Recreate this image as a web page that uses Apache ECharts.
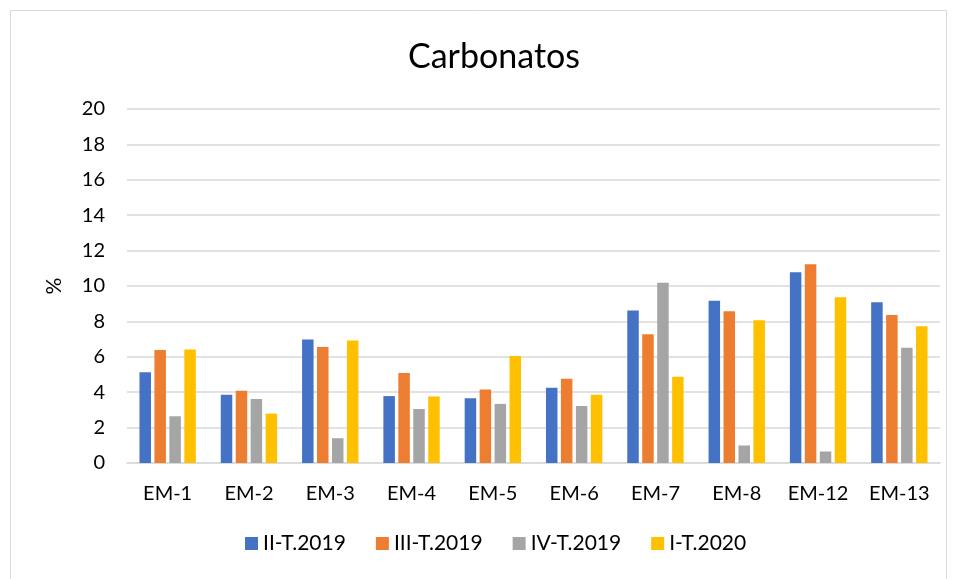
<!DOCTYPE html>
<html>
<head>
<meta charset="utf-8">
<script src="https://cdn.jsdelivr.net/npm/echarts@6/dist/echarts.min.js"></script>
<style>
  html, body { margin: 0; padding: 0; background: #fff; }
  #chart { width: 957px; height: 579px; }
</style>
</head>
<body>
<div id="chart"></div>
<script>
// estaciones y trimestres
let categories = ['EM-1', 'EM-2', 'EM-3', 'EM-4', 'EM-5', 'EM-6', 'EM-7', 'EM-8', 'EM-12', 'EM-13'];
let seriesNames = ['II-T.2019', 'III-T.2019', 'IV-T.2019', 'I-T.2020'];
let t2_2019 = [5.13, 3.85, 6.98, 3.78, 3.66, 4.25, 8.61, 9.16, 10.77, 9.08];
let t3_2019 = [6.39, 4.08, 6.56, 5.08, 4.15, 4.76, 7.28, 8.57, 11.23, 8.36];
let t4_2019 = [2.64, 3.62, 1.40, 3.05, 3.34, 3.22, 10.18, 0.99, 0.65, 6.51];
let t1_2020 = [6.41, 2.79, 6.92, 3.76, 6.05, 3.85, 4.87, 8.06, 9.37, 7.72];
let colors = ['#4472C4', '#ED7D31', '#A5A5A5', '#FFC000'];

let font = 'Lato, "Open Sans", sans-serif';
let dom = document.getElementById('chart');
let myChart = echarts.init(dom);

let values = [t2_2019, t3_2019, t4_2019, t1_2020];
let series = values.map(function (v, i) {
    return {
        name: seriesNames[i],
        type: 'bar',
        data: v,
        barWidth: 11.5,
        barGap: '30%',
        itemStyle: { color: colors[i] }
    };
});

let option = {
    animation: false,
    color: colors,
    graphic: [{
        type: 'rect',
        shape: { x: 10.5, y: 10.5, width: 936, height: 600 },
        style: { fill: 'none', stroke: '#d9d9d9', lineWidth: 1 }
    }],
    title: {
        text: 'Carbonatos',
        left: 403,
        top: 35,
        textStyle: { fontFamily: font, fontSize: 34, fontWeight: 'normal', color: '#000' }
    },
    legend: {
        data: seriesNames,
        bottom: 20,
        left: 240,
        itemWidth: 13,
        itemHeight: 13,
        itemGap: 30,
        icon: 'rect',
        textStyle: { fontFamily: font, fontSize: 21, color: '#000' }
    },
    grid: { left: 127, right: 17, top: 109, bottom: 116 },
    xAxis: {
        type: 'category',
        data: categories,
        axisLine: { lineStyle: { color: '#d9d9d9', width: 1.5 } },
        axisTick: { show: false },
        axisLabel: { interval: 0, fontFamily: font, fontSize: 20, color: '#000', margin: 21 }
    },
    yAxis: {
        type: 'value',
        min: 0,
        max: 20,
        interval: 2,
        name: '%',
        nameLocation: 'middle',
        nameGap: 62,
        nameTextStyle: { fontFamily: font, fontSize: 21, color: '#000' },
        axisLine: { show: false },
        axisTick: { show: false },
        axisLabel: { fontFamily: font, fontSize: 20, color: '#000', margin: 22 },
        splitLine: { lineStyle: { color: '#d9d9d9', width: 1.5 } }
    },
    series: series
};

myChart.setOption(option, true);
</script>
</body>
</html>
